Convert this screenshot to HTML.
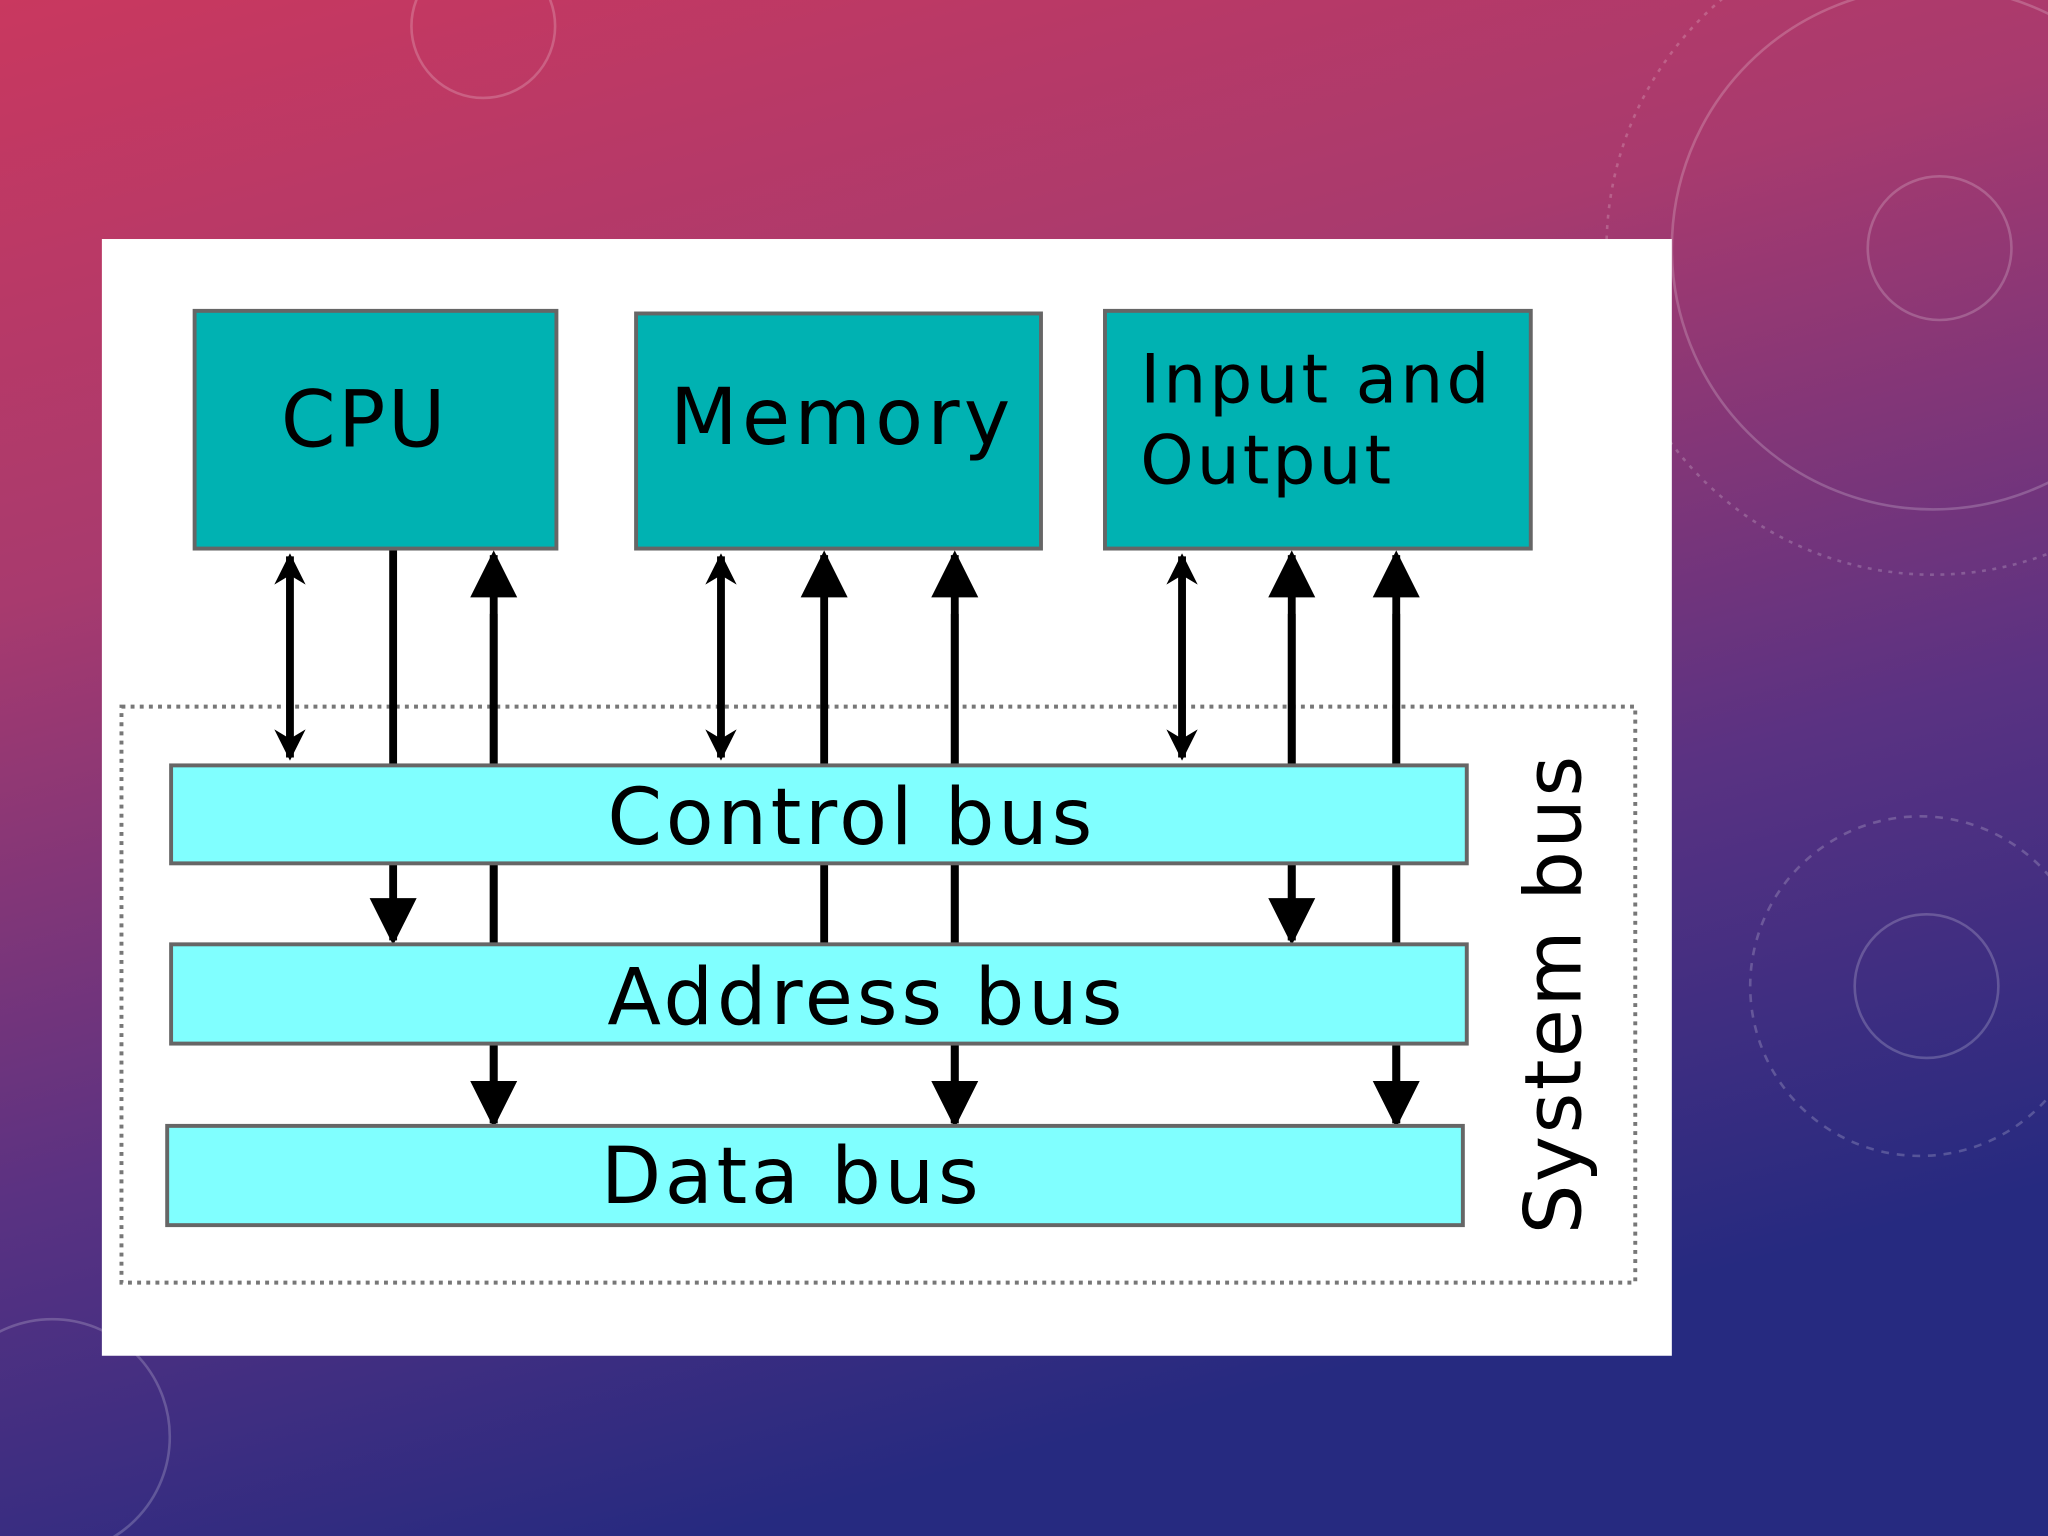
<!DOCTYPE html>
<html><head><meta charset="utf-8"><style>
html,body{margin:0;padding:0;width:2048px;height:1536px;overflow:hidden}
svg{display:block}
</style></head><body>
<svg width="2048" height="1536" viewBox="0 0 1568 1176" xmlns="http://www.w3.org/2000/svg">
<defs>
<linearGradient id="bg" x1="0" y1="0" x2="0.35" y2="1">
<stop offset="0" stop-color="#c9385f"/>
<stop offset="0.35" stop-color="#a83a6e"/>
<stop offset="0.7" stop-color="#5a3282"/>
<stop offset="1" stop-color="#262a80"/>
</linearGradient>
<marker id="big" viewBox="0 0 10 10" refX="9" refY="5" markerWidth="6" markerHeight="9" markerUnits="strokeWidth" orient="auto">
<path d="M0,0 L10,5 L0,10 z" fill="#000"/></marker>
<marker id="sm" viewBox="0 0 10 10" refX="9" refY="5" markerWidth="4" markerHeight="5.5" markerUnits="strokeWidth" orient="auto-start-reverse">
<path d="M0,0 L10,5 L0,10 L3,5 z" fill="#000"/></marker>
</defs>
<rect width="1568" height="1176" fill="url(#bg)"/>
<g fill="none" stroke="#ffffff" stroke-opacity="0.2" stroke-width="2">
<circle cx="1485" cy="190" r="55"/><circle cx="1480" cy="190" r="200"/><circle cx="1480" cy="190" r="250" stroke-dasharray="3 5"/>
<circle cx="1475" cy="755" r="55"/><circle cx="1470" cy="755" r="130" stroke-dasharray="6 6"/>
<circle cx="370" cy="20" r="55"/><circle cx="40" cy="1100" r="90"/>
</g>
<rect x="78" y="183" width="1202" height="855" fill="#fff"/>
<rect x="93" y="541" width="1159" height="441" fill="none" stroke="#777" stroke-width="3" stroke-dasharray="3 4"/>
<g stroke="#000" stroke-width="6">
<line x1="222" y1="426" x2="222" y2="580" marker-start="url(#sm)" marker-end="url(#sm)"/>
<line x1="552" y1="426" x2="552" y2="580" marker-start="url(#sm)" marker-end="url(#sm)"/>
<line x1="905" y1="426" x2="905" y2="580" marker-start="url(#sm)" marker-end="url(#sm)"/>
<line x1="301" y1="420" x2="301" y2="720" marker-end="url(#big)"/>
<line x1="378" y1="860" x2="378" y2="425" marker-end="url(#big)"/>
<line x1="378" y1="470" x2="378" y2="860" marker-end="url(#big)"/>
<line x1="631" y1="723" x2="631" y2="425" marker-end="url(#big)"/>
<line x1="731" y1="860" x2="731" y2="425" marker-end="url(#big)"/>
<line x1="731" y1="470" x2="731" y2="860" marker-end="url(#big)"/>
<line x1="989" y1="720" x2="989" y2="425" marker-end="url(#big)"/>
<line x1="989" y1="470" x2="989" y2="720" marker-end="url(#big)"/>
<line x1="1069" y1="860" x2="1069" y2="425" marker-end="url(#big)"/>
<line x1="1069" y1="470" x2="1069" y2="860" marker-end="url(#big)"/>
</g>
<g stroke="#666" stroke-width="3">
<rect x="149" y="238" width="277" height="182" fill="#00b2b2"/>
<rect x="487" y="240" width="310" height="180" fill="#00b2b2"/>
<rect x="846" y="238" width="326" height="182" fill="#00b2b2"/>
<rect x="131" y="586" width="992" height="75" fill="#80ffff"/>
<rect x="131" y="723" width="992" height="76" fill="#80ffff"/>
<rect x="128" y="862" width="992" height="76" fill="#80ffff"/>
</g>
<g font-family="'DejaVu Sans','Liberation Sans',sans-serif" fill="#000">
<text x="215" y="342" font-size="60" letter-spacing="2">CPU</text>
<text x="513" y="340" font-size="60" letter-spacing="3.3">Memory</text>
<text x="873" y="308" font-size="52" letter-spacing="2.3">Input and</text>
<text x="873" y="370" font-size="52" letter-spacing="2.3">Output</text>
<text x="465" y="646" font-size="60" letter-spacing="2.8">Control bus</text>
<text x="465" y="784" font-size="60" letter-spacing="2.9">Address bus</text>
<text x="460" y="921" font-size="60" letter-spacing="2.8">Data bus</text>
<text transform="translate(1210,945) rotate(-90)" font-size="60" letter-spacing="1.8">System bus</text>
</g>
</svg>
</body></html>
